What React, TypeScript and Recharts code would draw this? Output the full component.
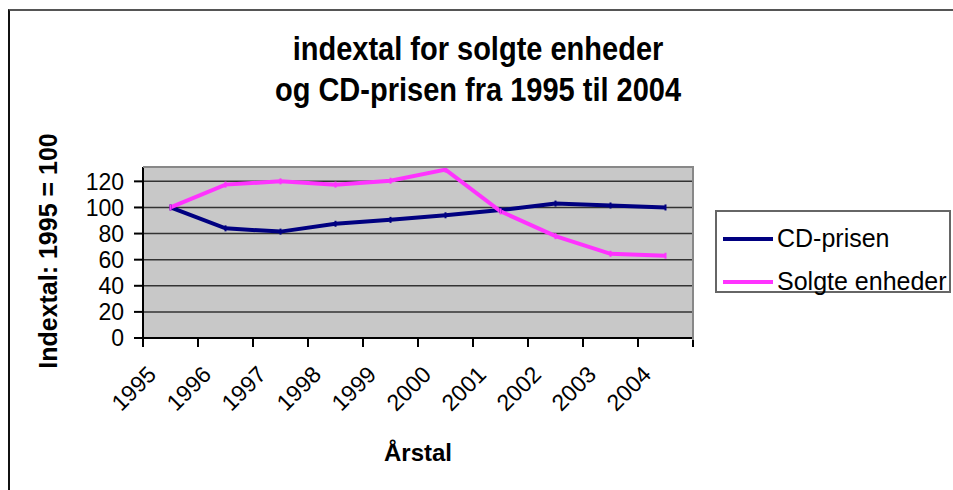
import { LineChart, Line, XAxis, YAxis, CartesianGrid, Legend } from 'recharts'

// Indextal (1995 = 100)
const years = ['1995', '1996', '1997', '1998', '1999', '2000', '2001', '2002', '2003', '2004']
const cdPrisen = [100, 84, 81.5, 87.5, 90.5, 94, 98, 103, 101.5, 100]
const solgteEnheder = [100, 117.5, 120, 117.5, 120.5, 129, 97, 78, 64.5, 63]
const yTicks = [0, 20, 40, 60, 80, 100, 120]

const series = [
  { key: 'cd', name: 'CD-prisen', color: '#000080' },
  { key: 'solgte', name: 'Solgte enheder', color: '#FF33FF' },
]

const data = years.map((year, i) => ({ year, cd: cdPrisen[i], solgte: solgteEnheder[i] }))

const FONT = '"Liberation Sans", Arial, sans-serif'
const STEP = 55 // category width in px

function YearTick(props: any) {
  const { x, y, payload, index } = props
  const last = index === years.length - 1
  return (
    <g>
      <line x1={x - STEP / 2} x2={x - STEP / 2} y1={y} y2={y + 9} stroke="#000" strokeWidth={2} />
      {last && <line x1={x + STEP / 2} x2={x + STEP / 2} y1={y} y2={y + 9} stroke="#000" strokeWidth={2} />}
      <text
        x={x - 13}
        y={y + 38}
        textAnchor="end"
        transform={`rotate(-45, ${x - 13}, ${y + 38})`}
        fontFamily={FONT}
        fontSize={23}
        fill="#000"
      >
        {payload.value}
      </text>
    </g>
  )
}

function TickDot(props: any) {
  const { cx, cy, stroke } = props
  if (cx == null || cy == null) return null
  return <line x1={cx} x2={cx} y1={cy - 3} y2={cy + 3} stroke={stroke} strokeWidth={2} />
}

function LegendBox({ payload }: any) {
  return (
    <div
      style={{
        border: '2px solid #666',
        width: 236,
        height: 83,
        boxSizing: 'border-box',
        background: '#fff',
        fontFamily: FONT,
        fontSize: 25,
        color: '#000',
        paddingTop: 5,
      }}
    >
      {(payload || []).map((p: any) => (
        <div key={p.value} style={{ display: 'flex', alignItems: 'center', height: 43, marginLeft: 6 }}>
          <svg width={52} height={10} style={{ marginRight: 2 }}>
            <line x1={0} x2={50} y1={5} y2={5} stroke={p.color} strokeWidth={4} />
          </svg>
          <span>{p.value}</span>
        </div>
      ))}
    </div>
  )
}

const tall = { display: 'inline-block', transform: 'scaleY(1.15)' }

export default function App() {
  return (
    <div style={{ position: 'absolute', left: 0, top: 0, width: 953, height: 490, overflow: 'hidden', background: '#fff' }}>
      {/* chart area border */}
      <div
        style={{
          position: 'absolute',
          left: 8,
          top: 9,
          width: 1000,
          height: 600,
          borderTop: '2px solid #555',
          borderLeft: '2px solid #111',
        }}
      />
      <div
        style={{
          position: 'absolute',
          left: 4,
          width: 948,
          top: 29,
          textAlign: 'center',
          fontFamily: FONT,
          fontWeight: 'bold',
          fontSize: 29,
          lineHeight: '41px',
          color: '#000',
        }}
      >
        <span style={tall}>indextal for solgte enheder</span>
        <br />
        <span style={tall}>og CD-prisen fra 1995 til 2004</span>
      </div>
      <div
        style={{
          position: 'absolute',
          left: 48 - 160,
          width: 320,
          top: 251 - 14,
          height: 28,
          lineHeight: '28px',
          textAlign: 'center',
          transform: 'rotate(-90deg)',
          fontFamily: FONT,
          fontWeight: 'bold',
          fontSize: 25,
          color: '#000',
        }}
      >
        Indextal: 1995 = 100
      </div>
      <div
        style={{
          position: 'absolute',
          left: 418 - 100,
          width: 200,
          top: 439,
          lineHeight: '28px',
          textAlign: 'center',
          fontFamily: FONT,
          fontWeight: 'bold',
          fontSize: 24,
          color: '#000',
        }}
      >
        Årstal
      </div>
      <div style={{ position: 'absolute', left: 0, top: 0 }}>
        <LineChart width={953} height={490} data={data} margin={{ top: 167, right: 260, bottom: 52, left: 73 }}>
          <CartesianGrid vertical={false} fill="#C8C8C8" stroke="#333" strokeWidth={1.5} />
          <XAxis
            dataKey="year"
            height={100}
            interval={0}
            padding={{ left: STEP / 2, right: STEP / 2 }}
            tickLine={false}
            tickSize={0}
            tickMargin={0}
            axisLine={{ stroke: '#000', strokeWidth: 2 }}
            tick={(p: any) => <YearTick {...p} />}
          />
          <YAxis
            width={70}
            domain={[0, 131]}
            ticks={yTicks}
            interval={0}
            tickSize={9}
            tickMargin={10}
            axisLine={{ stroke: '#000', strokeWidth: 2 }}
            tickLine={{ stroke: '#000', strokeWidth: 2 }}
            tick={{ fontFamily: FONT, fontSize: 23, fill: '#000' }}
          />
          {series.map((s) => (
            <Line
              key={s.key}
              dataKey={s.key}
              name={s.name}
              stroke={s.color}
              strokeWidth={4}
              dot={<TickDot />}
              activeDot={false}
              isAnimationActive={false}
            />
          ))}
          <Legend
            layout="vertical"
            align="center"
            verticalAlign="middle"
            content={<LegendBox />}
            wrapperStyle={{ left: 715, top: 210, width: 236, height: 83 }}
          />
        </LineChart>
      </div>
      {/* plot area border (top/right) */}
      <div
        style={{
          position: 'absolute',
          left: 143,
          top: 166,
          width: 549,
          height: 172,
          borderTop: '2px solid #888',
          borderRight: '2px solid #888',
          pointerEvents: 'none',
        }}
      />
    </div>
  )
}
